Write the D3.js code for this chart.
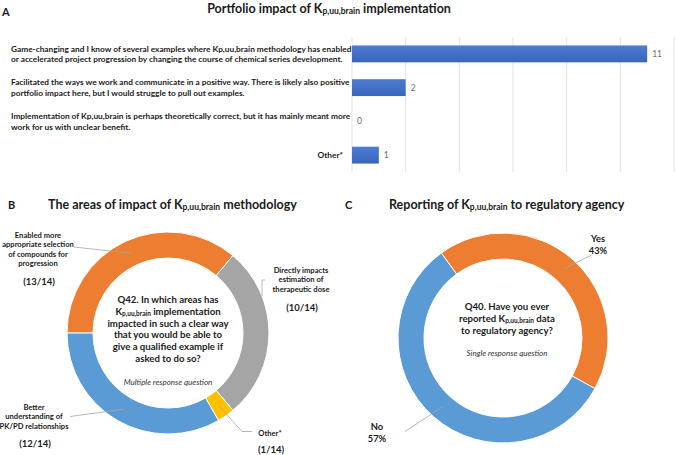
<!DOCTYPE html>
<html lang="en">
<head>
<meta charset="UTF-8">
<title>Kp,uu,brain survey</title>
<script src="https://cdn.jsdelivr.net/npm/d3@7"></script>
<style>
    body { margin: 0; background: #fff; }
    text { font-family: Lato, "Open Sans", sans-serif; fill: #1a1a1a; }
</style>
</head>
<body>
<script>

    // A - portfolio impact (number of respondents)
    var impactLabels = [
        ["Game-changing and I know of several examples where Kp,uu,brain methodology has enabled",
         "or accelerated project progression by changing the course of chemical series development."],
        ["Facilitated the ways we work and communicate in a positive way. There is likely also positive",
         "portfolio impact here, but I would struggle to pull out examples."],
        ["Implementation of Kp,uu,brain is perhaps theoretically correct, but it has mainly meant more",
         "work for us with unclear benefit."],
        ["Other*"]
    ];
    var impactCounts = [11, 2, 0, 1];
    var impactTicks = [0, 2, 4, 6, 8, 10, 12];

    // B - areas of impact (out of 14 respondents)
    var areaLabels = [
        ["Enabled more", "appropriate selection", "of compounds for", "progression"],
        ["Directly impacts", "estimation of", "therapeutic dose"],
        ["Other*"],
        ["Better", "understanding of", "PK/PD relationships"]
    ];
    var areaCounts = [13, 10, 1, 12];
    var areaTotal = 14;
    var areaQuestion = ["Q42. In which areas has", "@implementation", "impacted in such a clear way",
        "that you would be able to", "give a qualified example if", "asked to do so?"];

    // C - reporting to regulatory agency (%)
    var reportLabels = ["Yes", "No"];
    var reportShares = [43, 57];
    var reportQuestion = ["Q40. Have you ever", "reported @ data", "to regulatory agency?"];

    var orange = "#ED7D31", grey = "#A5A5A5", yellow = "#FFC000", blue = "#5B9BD5";

    var svg = d3.select("body").append("svg")
        .attr("width", 676)
        .attr("height", 455);

    var defs = svg.append("defs");
    var grad = defs.append("linearGradient").attr("id", "barGrad")
        .attr("x1", 0).attr("y1", 0).attr("x2", 0).attr("y2", 1);
    grad.append("stop").attr("offset", "0%").attr("stop-color", "#4d7dd2");
    grad.append("stop").attr("offset", "100%").attr("stop-color", "#3864bd");

    // writes "K" + small "p,uu,brain" into a text element
    function kp(t, size) {
        t.append("tspan").text("K");
        t.append("tspan").attr("font-size", size * 0.68).attr("dy", 1).text("p,uu,brain");
        return t.append("tspan").attr("dy", -1);
    }

    function panelTitle(x, y, anchor, before, after) {
        var t = svg.append("text")
            .attr("x", x).attr("y", y)
            .attr("text-anchor", anchor)
            .attr("font-size", 12.5)
            .attr("font-weight", "bold");
        t.append("tspan").text(before);
        kp(t, 12.5).text(after);
    }

    function panelLetter(x, y, s) {
        svg.append("text").attr("x", x).attr("y", y)
            .attr("font-size", 11).attr("font-weight", "bold").text(s);
    }

    // ---------- A ----------
    panelLetter(2, 16, "A");
    panelTitle(329, 13, "middle", "Portfolio impact of ", " implementation");

    var x = d3.scaleLinear().domain([0, 12]).range([352, 674]);
    var y = d3.scaleBand().domain(d3.range(impactCounts.length)).range([37, 172]).paddingInner(0.5).paddingOuter(0.25);

    svg.append("g").selectAll("line")
        .data(impactTicks)
        .enter()
        .append("line")
        .attr("x1", function (d) { return x(d); })
        .attr("x2", function (d) { return x(d); })
        .attr("y1", 37).attr("y2", 172)
        .attr("stroke", "#e3e3e3")
        .attr("stroke-width", 1);

    svg.append("g").selectAll("rect")
        .data(impactCounts)
        .enter()
        .append("rect")
        .attr("x", x(0))
        .attr("y", function (d, i) { return y(i); })
        .attr("width", function (d) { return x(d) - x(0); })
        .attr("height", y.bandwidth())
        .attr("fill", "url(#barGrad)");

    svg.append("g").selectAll("text")
        .data(impactCounts)
        .enter()
        .append("text")
        .attr("x", function (d) { return x(d) + 5; })
        .attr("y", function (d, i) { return y(i) + y.bandwidth() / 2 + 3; })
        .attr("font-size", 8.5)
        .style("fill", "#6b6b6b")
        .text(function (d) { return d; });

    impactLabels.forEach(function (lines, i) {
        var cy = y(i) + y.bandwidth() / 2;
        var single = lines.length === 1;
        var t = svg.append("text")
            .attr("font-size", 8.3)
            .attr("font-weight", "bold")
            .attr("text-anchor", single ? "end" : "start");
        lines.forEach(function (s, j) {
            t.append("tspan")
                .attr("x", single ? 343 : 11)
                .attr("y", cy + 3 + (j - (lines.length - 1) / 2) * 10.5)
                .text(s);
        });
    });

    // ---------- B ----------
    panelLetter(8, 209, "B");
    panelTitle(48, 209, "start", "The areas of impact of ", " methodology");

    var bc = [168, 333];
    var gB = svg.append("g").attr("transform", "translate(" + bc[0] + "," + bc[1] + ")");
    var pieB = d3.pie().sort(null).startAngle(-Math.PI / 2).endAngle(1.5 * Math.PI);
    var arcB = d3.arc().innerRadius(75).outerRadius(101);
    var areaColors = [orange, grey, yellow, blue];
    var slicesB = pieB(areaCounts);

    gB.selectAll("path")
        .data(slicesB)
        .enter()
        .append("path")
        .attr("d", arcB)
        .attr("fill", function (d, i) { return areaColors[i]; })
        .attr("stroke", "#fff")
        .attr("stroke-width", 1);

    // label layout: text centre, first baseline, gap to count, leader start
    var areaPlace = [
        {x: 38, y: 238, gap: 18.5, lead: [[74, 247]]},
        {x: 301, y: 273, gap: 19, lead: [[265, 280], [262, 280], [262, 296]]},
        {x: 270, y: 436, gap: 16.5, lead: [[252, 431.5], [242, 431.5]]},
        {x: 34, y: 410, gap: 18.5, lead: [[70, 416.5]]}
    ];

    slicesB.forEach(function (d, i) {
        var p = areaPlace[i];
        var c = arcB.centroid(d);
        var pts = p.lead.slice();
        if (i !== 1) pts.push([c[0] + bc[0], c[1] + bc[1]]);
        svg.append("path")
            .attr("d", d3.line()(pts))
            .attr("fill", "none")
            .attr("stroke", "#a6a6a6")
            .attr("stroke-width", 0.8);

        var t = svg.append("text")
            .attr("text-anchor", "middle")
            .attr("font-size", 7.6)
            .attr("font-weight", "bold");
        areaLabels[i].forEach(function (s, j) {
            t.append("tspan").attr("x", p.x).attr("y", p.y + j * 9.4).text(s);
        });
        svg.append("text")
            .attr("x", p.x + 1)
            .attr("y", p.y + (areaLabels[i].length - 1) * 9.4 + p.gap)
            .attr("text-anchor", "middle")
            .attr("font-size", 9.5)
            .attr("font-weight", "bold")
            .text("(" + areaCounts[i] + "/" + areaTotal + ")");
    });

    areaQuestion.forEach(function (s, j) {
        var t = svg.append("text")
            .attr("x", bc[0])
            .attr("y", 303 + j * 11.8)
            .attr("text-anchor", "middle")
            .attr("font-size", 9.6)
            .attr("font-weight", "bold");
        if (s.charAt(0) === "@") {
            kp(t, 9.6).text("  " + s.slice(1));
        } else {
            t.text(s);
        }
    });
    svg.append("text")
        .attr("x", bc[0]).attr("y", 385)
        .attr("text-anchor", "middle")
        .attr("font-size", 8)
        .attr("font-style", "italic")
        .style("fill", "#333")
        .text("Multiple response question");

    // ---------- C ----------
    panelLetter(345, 209, "C");
    panelTitle(389, 209, "start", "Reporting of ", " to regulatory agency");

    var cc = [503, 338];
    var gC = svg.append("g").attr("transform", "translate(" + cc[0] + "," + cc[1] + ")");
    var start = -36 * Math.PI / 180;
    var pieC = d3.pie().sort(null).startAngle(start).endAngle(start + 2 * Math.PI);
    var arcC = d3.arc().innerRadius(79).outerRadius(105);
    var reportColors = [orange, blue];
    var slicesC = pieC(reportShares);

    gC.selectAll("path")
        .data(slicesC)
        .enter()
        .append("path")
        .attr("d", arcC)
        .attr("fill", function (d, i) { return reportColors[i]; })
        .attr("stroke", "#fff")
        .attr("stroke-width", 1);

    var reportPlace = [
        {x: 598, y: 241.5, lead: [591.5, 255]},
        {x: 377, y: 430, lead: [405, 431.5]}
    ];

    slicesC.forEach(function (d, i) {
        var p = reportPlace[i];
        var c = arcC.centroid(d);
        svg.append("line")
            .attr("x1", p.lead[0]).attr("y1", p.lead[1])
            .attr("x2", c[0] + cc[0]).attr("y2", c[1] + cc[1])
            .attr("stroke", "#a6a6a6")
            .attr("stroke-width", 0.8);
        var t = svg.append("text")
            .attr("text-anchor", "middle")
            .attr("font-size", 9.3)
            .attr("font-weight", "bold");
        t.append("tspan").attr("x", p.x).attr("y", p.y).text(reportLabels[i]);
        t.append("tspan").attr("x", p.x).attr("y", p.y + 12).text(reportShares[i] + "%");
    });

    reportQuestion.forEach(function (s, j) {
        var t = svg.append("text")
            .attr("x", 507)
            .attr("y", 310 + j * 12)
            .attr("text-anchor", "middle")
            .attr("font-size", 9.6)
            .attr("font-weight", "bold");
        var k = s.indexOf("@");
        if (k >= 0) {
            t.append("tspan").text(s.slice(0, k));
            kp(t, 9.6).text(" " + s.slice(k + 1));
        } else {
            t.text(s);
        }
    });
    svg.append("text")
        .attr("x", 507).attr("y", 356)
        .attr("text-anchor", "middle")
        .attr("font-size", 8)
        .attr("font-style", "italic")
        .style("fill", "#333")
        .text("Single response question");

</script>
</body>
</html>
